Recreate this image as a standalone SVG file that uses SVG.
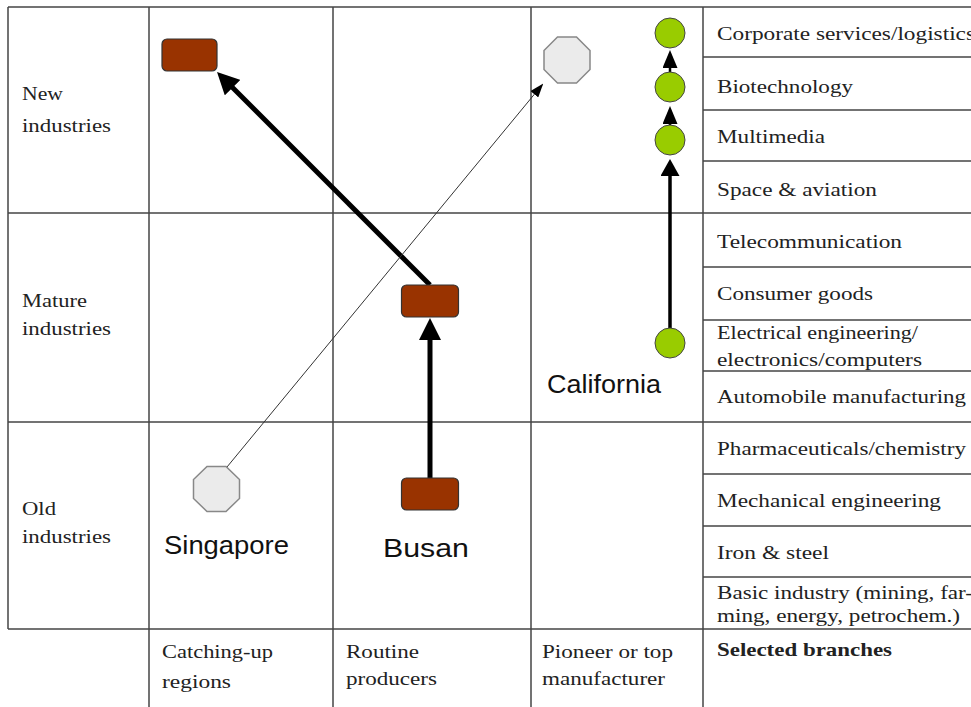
<svg xmlns="http://www.w3.org/2000/svg" width="971" height="707" viewBox="0 0 971 707">
<style>
.grid{stroke:#444;stroke-width:1.5;fill:none}
.lbl{font-family:"Liberation Serif","DejaVu Serif",serif;font-size:19px;fill:#222}
.bold{font-weight:bold}
.city{font-family:"Liberation Sans",Arial,sans-serif;font-size:26px;fill:#111}
.rect{fill:#993300;stroke:#333;stroke-width:1.2}
.oct{fill:#ebebeb;stroke:#888;stroke-width:1.5}
.circ{fill:#99cc00;stroke:#444;stroke-width:1}
.thick{stroke:#000;stroke-width:5;fill:none}
.mid{stroke:#000;stroke-width:3.5;fill:none}
.small{stroke:#000;stroke-width:2.5;fill:none}
.thin{stroke:#333;stroke-width:1;fill:none}
</style>
<defs>
<marker id="mBig" viewBox="0 0 22 22" refX="10" refY="11" markerWidth="22" markerHeight="22" markerUnits="userSpaceOnUse" orient="auto"><path d="M0,0 L22,11 L0,22 z" fill="#000"/></marker>
<marker id="mMid" viewBox="0 0 17 19" refX="8" refY="9.5" markerWidth="17" markerHeight="19" markerUnits="userSpaceOnUse" orient="auto"><path d="M0,0 L17,9.5 L0,19 z" fill="#000"/></marker>
<marker id="mSmall" viewBox="0 0 18 15" refX="8" refY="7.5" markerWidth="18" markerHeight="15" markerUnits="userSpaceOnUse" orient="auto"><path d="M0,0 L18,7.5 L0,15 z" fill="#000"/></marker>
<marker id="mThin" viewBox="0 0 14 10" refX="12" refY="5" markerWidth="14" markerHeight="10" markerUnits="userSpaceOnUse" orient="auto"><path d="M0,0 L14,5 L0,10 z" fill="#000"/></marker>
</defs>
<rect width="971" height="707" fill="#fff"/>
<g id="grid" class="grid">
<line x1="8" y1="7" x2="971" y2="7"/>
<line x1="8" y1="7" x2="8" y2="629"/>
<line x1="149" y1="7" x2="149" y2="707"/>
<line x1="333" y1="7" x2="333" y2="707"/>
<line x1="531" y1="7" x2="531" y2="707"/>
<line x1="703" y1="7" x2="703" y2="707"/>
<line x1="8" y1="213" x2="971" y2="213"/>
<line x1="8" y1="422" x2="971" y2="422"/>
<line x1="8" y1="629" x2="971" y2="629"/>
<line x1="703" y1="57" x2="971" y2="57"/>
<line x1="703" y1="110" x2="971" y2="110"/>
<line x1="703" y1="161" x2="971" y2="161"/>
<line x1="703" y1="267" x2="971" y2="267"/>
<line x1="703" y1="320" x2="971" y2="320"/>
<line x1="703" y1="371" x2="971" y2="371"/>
<line x1="703" y1="474" x2="971" y2="474"/>
<line x1="703" y1="526" x2="971" y2="526"/>
<line x1="703" y1="577" x2="971" y2="577"/>
</g>
<g id="row-labels" class="lbl">
<text x="22" y="100" textLength="41" lengthAdjust="spacingAndGlyphs">New</text>
<text x="22" y="132" textLength="89" lengthAdjust="spacingAndGlyphs">industries</text>
<text x="22" y="307" textLength="65" lengthAdjust="spacingAndGlyphs">Mature</text>
<text x="22" y="335" textLength="89" lengthAdjust="spacingAndGlyphs">industries</text>
<text x="22" y="515" textLength="34" lengthAdjust="spacingAndGlyphs">Old</text>
<text x="22" y="543" textLength="89" lengthAdjust="spacingAndGlyphs">industries</text>
</g>
<g id="col-labels" class="lbl">
<text x="162" y="658" textLength="111" lengthAdjust="spacingAndGlyphs">Catching-up</text>
<text x="162" y="688" textLength="69" lengthAdjust="spacingAndGlyphs">regions</text>
<text x="346" y="658" textLength="73" lengthAdjust="spacingAndGlyphs">Routine</text>
<text x="346" y="685" textLength="91" lengthAdjust="spacingAndGlyphs">producers</text>
<text x="542" y="658" textLength="131" lengthAdjust="spacingAndGlyphs">Pioneer or top</text>
<text x="542" y="685" textLength="123" lengthAdjust="spacingAndGlyphs">manufacturer</text>
<text x="717" y="656" class="bold" textLength="175" lengthAdjust="spacingAndGlyphs">Selected branches</text>
</g>
<g id="branches" class="lbl">
<text x="717" y="40" textLength="258" lengthAdjust="spacingAndGlyphs">Corporate services/logistics</text>
<text x="717" y="93" textLength="136" lengthAdjust="spacingAndGlyphs">Biotechnology</text>
<text x="717" y="143" textLength="108" lengthAdjust="spacingAndGlyphs">Multimedia</text>
<text x="717" y="196" textLength="160" lengthAdjust="spacingAndGlyphs">Space &amp; aviation</text>
<text x="717" y="248" textLength="185" lengthAdjust="spacingAndGlyphs">Telecommunication</text>
<text x="717" y="300" textLength="156" lengthAdjust="spacingAndGlyphs">Consumer goods</text>
<text x="717" y="339" textLength="201" lengthAdjust="spacingAndGlyphs">Electrical engineering/</text>
<text x="717" y="366" textLength="205" lengthAdjust="spacingAndGlyphs">electronics/computers</text>
<text x="717" y="403" textLength="249" lengthAdjust="spacingAndGlyphs">Automobile manufacturing</text>
<text x="717" y="455" textLength="249" lengthAdjust="spacingAndGlyphs">Pharmaceuticals/chemistry</text>
<text x="717" y="507" textLength="224" lengthAdjust="spacingAndGlyphs">Mechanical engineering</text>
<text x="717" y="559" textLength="112" lengthAdjust="spacingAndGlyphs">Iron &amp; steel</text>
<text x="717" y="599" textLength="256" lengthAdjust="spacingAndGlyphs">Basic industry (mining, far-</text>
<text x="717" y="622" textLength="243" lengthAdjust="spacingAndGlyphs">ming, energy, petrochem.)</text>
</g>
<g id="connectors">
<line class="thick" x1="430" y1="285" x2="225.5" y2="80.5" marker-end="url(#mBig)"/>
<line class="thick" x1="430" y1="478" x2="430" y2="330" marker-end="url(#mBig)"/>
<line class="thin" x1="227" y1="467" x2="542" y2="85" marker-end="url(#mThin)"/>
<line class="mid" x1="670" y1="328" x2="670" y2="168" marker-end="url(#mMid)"/>
<line class="small" x1="670" y1="125" x2="670" y2="116" marker-end="url(#mSmall)"/>
<line class="small" x1="670" y1="72" x2="670" y2="60" marker-end="url(#mSmall)"/>
</g>
<g id="singapore-new"><rect class="rect" x="162" y="39" width="55" height="32" rx="5"/></g>
<g id="busan-mature"><rect class="rect" x="401.5" y="285" width="57" height="32" rx="5"/></g>
<g id="busan-old"><rect class="rect" x="401.5" y="478" width="57" height="32" rx="5"/></g>
<g id="singapore-target"><polygon class="oct" transform="translate(567,60)" points="-9.5,-23 9.5,-23 23,-9.5 23,9.5 9.5,23 -9.5,23 -23,9.5 -23,-9.5"/></g>
<g id="singapore-old"><polygon class="oct" transform="translate(216.5,489)" points="-9.5,-22.5 9.5,-22.5 23,-9.5 23,9.5 9.5,22.5 -9.5,22.5 -23,9.5 -23,-9.5"/></g>
<g id="california-1"><circle class="circ" cx="670" cy="33" r="15"/></g>
<g id="california-2"><circle class="circ" cx="670" cy="87" r="15"/></g>
<g id="california-3"><circle class="circ" cx="670" cy="140" r="15"/></g>
<g id="california-4"><circle class="circ" cx="670" cy="343" r="15"/></g>
<g id="region-labels" class="city">
<text x="164" y="554" textLength="125" lengthAdjust="spacingAndGlyphs">Singapore</text>
<text x="383" y="557" textLength="86" lengthAdjust="spacingAndGlyphs">Busan</text>
<text x="547" y="393" textLength="114" lengthAdjust="spacingAndGlyphs">California</text>
</g>
</svg>
